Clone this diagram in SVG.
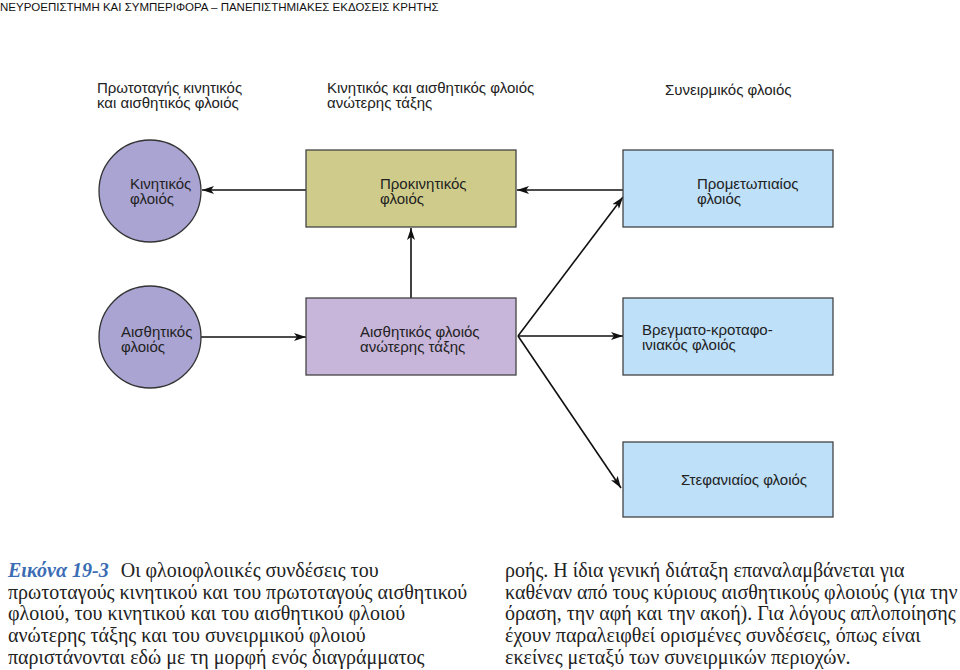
<svg xmlns="http://www.w3.org/2000/svg" width="960" height="670" viewBox="0 0 960 670">
<defs>
<style>
.lbl{font-family:"Liberation Sans",Arial,sans-serif;font-size:15px;fill:#222}
.hdr{font-family:"Liberation Sans",Arial,sans-serif;font-size:15px;fill:#222}
.cap{font-family:"Liberation Serif","Times New Roman",serif;font-size:20px;fill:#222}
.fig{font-family:"Liberation Serif","Times New Roman",serif;font-size:20px;font-style:italic;font-weight:bold;fill:#3b6db4}
.circ{fill:#aaa4d3;stroke:#333;stroke-width:1.3}
.box{stroke:#444;stroke-width:1.3}
.conn{stroke:#111;stroke-width:1.6;fill:none;marker-end:url(#ah)}
</style>
<marker id="ah" viewBox="0 0 12 8" refX="12" refY="4" markerWidth="12" markerHeight="8" markerUnits="userSpaceOnUse" orient="auto">
<path d="M0,0 L12,4 L0,8 L3,4 Z" fill="#111"/>
</marker>
</defs>
<rect width="960" height="670" fill="#fff"/>
<text x="0" y="11" style="font-family:'Liberation Sans',Arial,sans-serif;font-size:11.5px;fill:#111">ΝΕΥΡΟΕΠΙΣΤΗΜΗ ΚΑΙ ΣΥΜΠΕΡΙΦΟΡΑ – ΠΑΝΕΠΙΣΤΗΜΙΑΚΕΣ ΕΚΔΟΣΕΙΣ ΚΡΗΤΗΣ</text>

<g id="headers">
<text class="hdr" x="97" y="93">Πρωτοταγής κινητικός</text>
<text class="hdr" x="97" y="108">και αισθητικός φλοιός</text>
<text class="hdr" x="327" y="93">Κινητικός και αισθητικός φλοιός</text>
<text class="hdr" x="327" y="108">ανώτερης τάξης</text>
<text class="hdr" x="665" y="95">Συνειρμικός φλοιός</text>
</g>

<g id="connectors">
<line class="conn" x1="306" y1="190" x2="202" y2="190"/>
<line class="conn" x1="623" y1="190" x2="517" y2="190"/>
<line class="conn" x1="411" y1="298" x2="411" y2="228"/>
<line class="conn" x1="201" y1="337" x2="306" y2="337"/>
<line class="conn" x1="518" y1="336" x2="623" y2="197"/>
<line class="conn" x1="518" y1="336" x2="623" y2="336"/>
<line class="conn" x1="518" y1="336" x2="621" y2="488"/>
</g>

<g id="motor">
<circle class="circ" cx="150" cy="191" r="51"/>
<text class="lbl" x="130" y="189">Κινητικός</text>
<text class="lbl" x="130" y="204">φλοιός</text>
</g>
<g id="sensory">
<circle class="circ" cx="150" cy="337" r="51"/>
<text class="lbl" x="121" y="337">Αισθητικός</text>
<text class="lbl" x="121" y="352">φλοιός</text>
</g>
<g id="premotor">
<rect class="box" x="306" y="150" width="210" height="77" fill="#cfcc8b"/>
<text class="lbl" x="380" y="189">Προκινητικός</text>
<text class="lbl" x="380" y="204">φλοιός</text>
</g>
<g id="higher-sensory">
<rect class="box" x="306" y="298" width="210" height="77" fill="#c8b5da"/>
<text class="lbl" x="360" y="337">Αισθητικός φλοιός</text>
<text class="lbl" x="360" y="352">ανώτερης τάξης</text>
</g>
<g id="prefrontal">
<rect class="box" x="623" y="150" width="210" height="77" fill="#bee0f9"/>
<text class="lbl" x="697" y="189">Προμετωπιαίος</text>
<text class="lbl" x="697" y="204">φλοιός</text>
</g>
<g id="parieto-temporo-occipital">
<rect class="box" x="623" y="298" width="210" height="77" fill="#bee0f9"/>
<text class="lbl" x="642" y="335">Βρεγματο-κροταφο-</text>
<text class="lbl" x="642" y="350">ινιακός φλοιός</text>
</g>
<g id="limbic">
<rect class="box" x="623" y="442" width="210" height="75" fill="#bee0f9"/>
<text class="lbl" x="681" y="485">Στεφανιαίος φλοιός</text>
</g>

<g id="caption">
<text x="8" y="577"><tspan class="fig">Εικόνα 19-3</tspan><tspan class="cap" dx="12">Οι φλοιοφλοιικές συνδέσεις του</tspan></text>
<text class="cap" x="8" y="599">πρωτοταγούς κινητικού και του πρωτοταγούς αισθητικού</text>
<text class="cap" x="8" y="620">φλοιού, του κινητικού και του αισθητικού φλοιού</text>
<text class="cap" x="8" y="642">ανώτερης τάξης και του συνειρμικού φλοιού</text>
<text class="cap" x="8" y="664">παριστάνονται εδώ με τη μορφή ενός διαγράμματος</text>
<text class="cap" x="505" y="577">ροής. Η ίδια γενική διάταξη επαναλαμβάνεται για</text>
<text class="cap" x="505" y="599">καθέναν από τους κύριους αισθητικούς φλοιούς (για την</text>
<text class="cap" x="505" y="620">όραση, την αφή και την ακοή). Για λόγους απλοποίησης</text>
<text class="cap" x="505" y="642">έχουν παραλειφθεί ορισμένες συνδέσεις, όπως είναι</text>
<text class="cap" x="505" y="664">εκείνες μεταξύ των συνειρμικών περιοχών.</text>
</g>
</svg>
